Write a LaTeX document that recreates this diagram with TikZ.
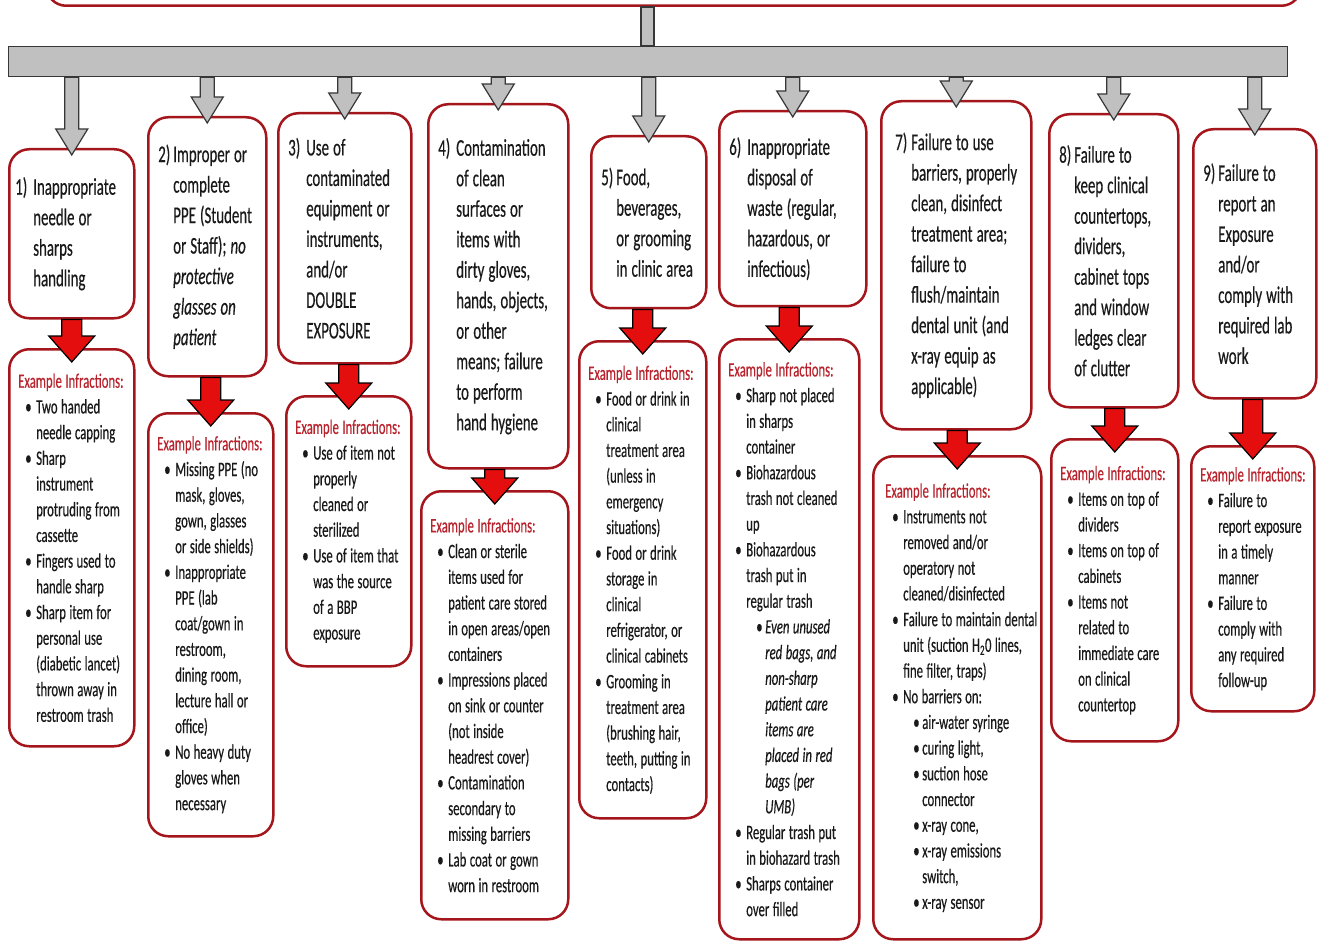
\documentclass[tikz,border=0pt]{standalone}
\usepackage{fontspec}
\setmainfont{Carlito}[FakeStretch=0.62, FakeBold=0.35]
\usepackage{tikz}
\usetikzlibrary{calc}
\definecolor{boxred}{RGB}{165,22,28}
\definecolor{headred}{RGB}{185,35,45}
\definecolor{arrred}{RGB}{228,14,14}
\definecolor{arrgray}{RGB}{192,192,192}
\definecolor{arredge}{RGB}{55,55,55}
\definecolor{txt}{RGB}{25,25,25}
\newcommand{\titlefont}{\fontsize{24}{30.5}\selectfont}
\newcommand{\itemfont}{\fontsize{20.5}{25.7}\selectfont}
\newcommand{\sline}[1]{\mbox{\spaceskip=.17em\relax#1}}
\newcommand{\exhead}{\sline{\textcolor{headred}{Example Infractions:}}}
\newcommand{\tnum}[3][18pt]{\makebox[#1][l]{#2}\sline{#3}}
\newcommand{\tcont}[2][18pt]{\hspace*{#1}\sline{#2}}
\newcommand{\itm}[1]{\hspace*{7pt}\makebox[11pt][l]{\textbullet}\sline{#1}}
\newcommand{\itc}[1]{\hspace*{18pt}\sline{#1}}
\newcommand{\sitm}[1]{\hspace*{28pt}\makebox[9pt][l]{\textbullet}\sline{#1}}
\newcommand{\sitc}[1]{\hspace*{37pt}\sline{#1}}
% block arrows: #1 = start of shaft, #2 = tip
\newcommand{\grayarrow}[2]{%
  \path[garr] let \p1=(#1), \p2=(#2) in
    (\x2-7pt,\y1) -- (\x2-7pt,\y2+26pt) -- (\x2-16pt,\y2+26pt) -- (\x2,\y2)
    -- (\x2+16pt,\y2+26pt) -- (\x2+7pt,\y2+26pt) -- (\x2+7pt,\y1) -- cycle;}
\newcommand{\redarrow}[2]{%
  \path[rarr] let \p1=(#1), \p2=(#2) in
    (\x2-10pt,\y1) -- (\x2-10pt,\y2+26pt) -- (\x2-23pt,\y2+26pt) -- (\x2,\y2)
    -- (\x2+23pt,\y2+26pt) -- (\x2+10pt,\y2+26pt) -- (\x2+10pt,\y1) -- cycle;}
\tikzset{
  box/.style  ={rectangle, rounded corners=20pt, draw=boxred, line width=2.5pt,
                fill=white, text=txt, align=left, inner ysep=4pt},
  tbox/.style 2 args={box, font=\titlefont, inner xsep=10pt, minimum width=#1,
                text width=#1-20pt, minimum height=#2, anchor=north west},
  ebox/.style 2 args={box, font=\itemfont, inner xsep=9pt, minimum width=#1,
                text width=#1-18pt, minimum height=#2, anchor=north west},
  barbox/.style={rectangle, fill=arrgray, draw=arredge, line width=1.2pt, inner sep=0pt},
  garr/.style ={fill=arrgray, draw=arredge, line width=1.2pt},
  rarr/.style ={fill=arrred, draw=black, line width=1.2pt}
}

\begin{document}
\begin{tikzpicture}[x=1pt, y=-1pt]
\path[use as bounding box, fill=white] (0,0) rectangle (1325,941);

\node[box, minimum width=1255pt, minimum height=60pt, anchor=south west] (top) at (45,7) {};
\node[barbox, minimum width=1279pt, minimum height=30pt, anchor=north west] (bar) at (8,46) {};
\path[garr] let \p1=(top.south), \p2=(bar.north) in (641pt,\y1) rectangle (654pt,\y2);

% categories
\node[tbox={125pt}{169pt}, inner xsep=6pt, text width=113pt] (t1) at (8,148) {\tnum{1)}{Inappropriate}\\ \tcont{needle or}\\
  \tcont{sharps}\\ \tcont{handling}};
\node[tbox={118pt}{259pt}] (t2) at (147,116) {\tnum[15pt]{2)}{Improper or}\\ \tcont[15pt]{complete}\\
  \tcont[15pt]{PPE (Student}\\ \tcont[15pt]{or Staff); \textit{no}}\\ \tcont[15pt]{\textit{protective}}\\
  \tcont[15pt]{\textit{glasses on}}\\ \tcont[15pt]{\textit{patient}}};
\node[tbox={133pt}{250pt}] (t3) at (277,112) {\tnum{3)}{Use of}\\ \tcont{contaminated}\\
  \tcont{equipment or}\\ \tcont{instruments,}\\ \tcont{and/or}\\ \tcont{DOUBLE}\\ \tcont{EXPOSURE}};
\node[tbox={140pt}{364pt}] (t4) at (427,103) {\tnum{4)}{Contamination}\\ \tcont{of clean}\\
  \tcont{surfaces or}\\ \tcont{items with}\\ \tcont{dirty gloves,}\\ \tcont{hands, objects,}\\
  \tcont{or other}\\ \tcont{means; failure}\\ \tcont{to perform}\\ \tcont{hand hygiene}};
\node[tbox={115pt}{172pt}] (t5) at (590,135) {\tnum[15pt]{5)}{Food,}\\ \tcont[15pt]{beverages,}\\
  \tcont[15pt]{or grooming}\\ \tcont[15pt]{in clinic area}};
\node[tbox={147pt}{195pt}] (t6) at (718,110) {\tnum{6)}{Inappropriate}\\ \tcont{disposal of}\\
  \tcont{waste (regular,}\\ \tcont{hazardous, or}\\ \tcont{infectious)}};
\node[tbox={150pt}{328pt}, inner xsep=14pt, text width=122pt] (t7) at (880,100) {\tnum[16pt]{7)}{Failure to use}\\
  \tcont[16pt]{barriers, properly}\\ \tcont[16pt]{clean, disinfect}\\ \tcont[16pt]{treatment area;}\\
  \tcont[16pt]{failure to}\\ \tcont[16pt]{flush/maintain}\\ \tcont[16pt]{dental unit (and}\\
  \tcont[16pt]{x-ray equip as}\\ \tcont[16pt]{applicable)}};
\node[tbox={129pt}{293pt}] (t8) at (1048,113) {\tnum[15pt]{8)}{Failure to}\\ \tcont[15pt]{keep clinical}\\
  \tcont[15pt]{countertops,}\\ \tcont[15pt]{dividers,}\\ \tcont[15pt]{cabinet tops}\\
  \tcont[15pt]{and window}\\ \tcont[15pt]{ledges clear}\\ \tcont[15pt]{of clutter}};
\node[tbox={123pt}{269pt}] (t9) at (1192,128) {\tnum[15pt]{9)}{Failure to}\\ \tcont[15pt]{report an}\\
  \tcont[15pt]{Exposure}\\ \tcont[15pt]{and/or}\\ \tcont[15pt]{comply with}\\
  \tcont[15pt]{required lab}\\ \tcont[15pt]{work}};

% example infractions
\node[ebox={125pt}{397pt}] (e1) at (8,348) {\exhead\\ \itm{Two handed}\\ \itc{needle capping}\\
  \itm{Sharp}\\ \itc{instrument}\\ \itc{protruding from}\\ \itc{cassette}\\
  \itm{Fingers used to}\\ \itc{handle sharp}\\ \itm{Sharp item for}\\ \itc{personal use}\\
  \itc{(diabetic lancet)}\\ \itc{thrown away in}\\ \itc{restroom trash}};
\node[ebox={125pt}{423pt}] (e2) at (147,412) {\exhead\\ \itm{Missing PPE (no}\\ \itc{mask, gloves,}\\
  \itc{gown, glasses}\\ \itc{or side shields)}\\ \itm{Inappropriate}\\ \itc{PPE (lab}\\
  \itc{coat/gown in}\\ \itc{restroom,}\\ \itc{dining room,}\\ \itc{lecture hall or}\\ \itc{office)}\\
  \itm{No heavy duty}\\ \itc{gloves when}\\ \itc{necessary}};
\node[ebox={125pt}{270pt}] (e3) at (285,395) {\exhead\\ \itm{Use of item not}\\ \itc{properly}\\
  \itc{cleaned or}\\ \itc{sterilized}\\ \itm{Use of item that}\\ \itc{was the source}\\
  \itc{of a BBP}\\ \itc{exposure}};
\node[ebox={147pt}{428pt}] (e4) at (420,490) {\exhead\\ \itm{Clean or sterile}\\ \itc{items used for}\\
  \itc{patient care stored}\\ \itc{in open areas/open}\\ \itc{containers}\\ \itm{Impressions placed}\\
  \itc{on sink or counter}\\ \itc{(not inside}\\ \itc{headrest cover)}\\ \itm{Contamination}\\
  \itc{secondary to}\\ \itc{missing barriers}\\ \itm{Lab coat or gown}\\ \itc{worn in restroom}};
\node[ebox={127pt}{477pt}] (e5) at (578,340) {\exhead\\ \itm{Food or drink in}\\ \itc{clinical}\\
  \itc{treatment area}\\ \itc{(unless in}\\ \itc{emergency}\\ \itc{situations)}\\ \itm{Food or drink}\\
  \itc{storage in}\\ \itc{clinical}\\ \itc{refrigerator, or}\\ \itc{clinical cabinets}\\
  \itm{Grooming in}\\ \itc{treatment area}\\ \itc{(brushing hair,}\\ \itc{teeth, putting in}\\
  \itc{contacts)}};
\node[ebox={140pt}{600pt}] (e6) at (718,338) {\exhead\\ \itm{Sharp not placed}\\ \itc{in sharps}\\
  \itc{container}\\ \itm{Biohazardous}\\ \itc{trash not cleaned}\\ \itc{up}\\ \itm{Biohazardous}\\
  \itc{trash put in}\\ \itc{regular trash}\\ \sitm{\textit{Even unused}}\\ \sitc{\textit{red bags, and}}\\
  \sitc{\textit{non-sharp}}\\ \sitc{\textit{patient care}}\\ \sitc{\textit{items are}}\\
  \sitc{\textit{placed in red}}\\ \sitc{\textit{bags (per}}\\ \sitc{\textit{UMB)}}\\
  \itm{Regular trash put}\\ \itc{in biohazard trash}\\ \itm{Sharps container}\\ \itc{over filled}};
\node[ebox={168pt}{483pt}, inner xsep=12pt, text width=144pt] (e7) at (872,455) {\exhead\\
  \itm{Instruments not}\\ \itc{removed and/or}\\ \itc{operatory not}\\ \itc{cleaned/disinfected}\\
  \itm{Failure to maintain dental}\\ \itc{unit (suction H\textsubscript{2}0 lines,}\\
  \itc{fine filter, traps)}\\ \itm{No barriers on:}\\ \sitm{air-water syringe}\\ \sitm{curing light,}\\
  \sitm{suction hose}\\ \sitc{connector}\\ \sitm{x-ray cone,}\\ \sitm{x-ray emissions}\\
  \sitc{switch,}\\ \sitm{x-ray sensor}};
\node[ebox={127pt}{302pt}] (e8) at (1050,438) {\exhead\\ \itm{Items on top of}\\ \itc{dividers}\\
  \itm{Items on top of}\\ \itc{cabinets}\\ \itm{Items not}\\ \itc{related to}\\ \itc{immediate care}\\
  \itc{on clinical}\\ \itc{countertop}};
\node[ebox={123pt}{265pt}] (e9) at (1190,445) {\exhead\\ \itm{Failure to}\\ \itc{report exposure}\\
  \itc{in a timely}\\ \itc{manner}\\ \itm{Failure to}\\ \itc{comply with}\\ \itc{any required}\\
  \itc{follow-up}};

% arrows
\foreach \k in {1,...,9}{
  \grayarrow{bar.south}{[yshift=-7pt]t\k.north}
  \redarrow{t\k.south}{[yshift=-14pt]e\k.north}
}
\end{tikzpicture}
\end{document}
